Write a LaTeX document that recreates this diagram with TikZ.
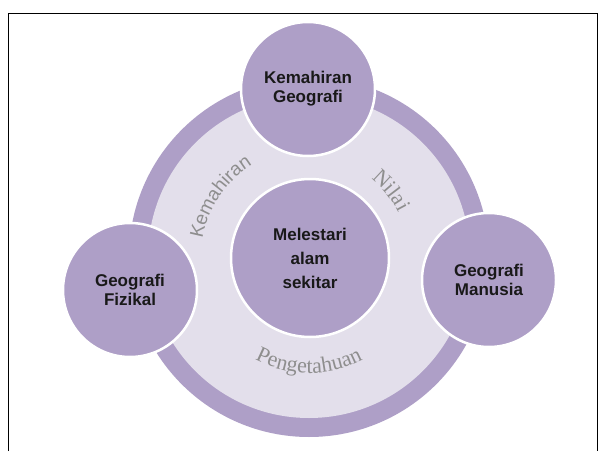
\documentclass[tikz,border=0pt]{standalone}
\usepackage{fontspec}
\setmainfont{Liberation Sans}
\newfontfamily\serifring{Liberation Serif}
\usetikzlibrary{decorations.text}
\definecolor{ungu}{HTML}{AE9FC7}
\definecolor{unguMuda}{HTML}{E3DFEB}
\definecolor{kelabu}{HTML}{8E8E8E}
\begin{document}
\begin{tikzpicture}[x=1pt, y=1pt,
    bulat/.style={circle, fill=ungu, draw=white, line width=2.5pt, inner sep=0pt,
                  minimum size=134pt, align=center, text=black!90,
                  font=\fontsize{17}{19}\selectfont\bfseries},
    lengkung/.style={decorate, decoration={text along path, text align=center}}]
  \useasboundingbox (0,0) rectangle (605,451);
  % --- bingkai ---
  \draw[line width=0.8pt] (8,0) -- (8,438) -- (597,438) -- (597,0);

  % --- cincin besar ---
  \node[circle, fill=ungu, minimum size=360pt, inner sep=0pt] (cincin) at (309,194) {};
  \node[circle, fill=unguMuda, minimum size=322pt, inner sep=0pt] (dalam) at (cincin.center) {};

  % --- label pada cincin ---
  \path[lengkung, decoration={text={|\fontsize{19}{19}\selectfont\color{kelabu}|Kemahiran}}]
    ([shift={(174:108)}]cincin.center) arc[start angle=174, end angle=118, radius=108];
  \path[lengkung, decoration={text={|\serifring\fontsize{22}{22}\selectfont\color{kelabu}|Nilai}}]
    ([shift={(56:100)}]cincin.center) arc[start angle=56, end angle=22, radius=100];
  \path[lengkung, decoration={text={|\serifring\fontsize{22}{22}\selectfont\color{kelabu}|Pengetahuan}}]
    ([shift={(232:116)}]cincin.center) arc[start angle=232, end angle=308, radius=116];

  % --- bulatan ---
  \node[bulat, minimum size=158pt, font=\fontsize{17}{24}\selectfont\bfseries] (pusat) at (310,193)
    {Melestari\\ alam\\ sekitar};
  \node[bulat] (kemahiran) at (308,362) {Kemahiran\\ Geografi};
  \node[bulat] (fizikal) at (130,161) {Geografi\\ Fizikal};
  \node[bulat] (manusia) at (489,171) {Geografi\\ Manusia};
\end{tikzpicture}
\end{document}
